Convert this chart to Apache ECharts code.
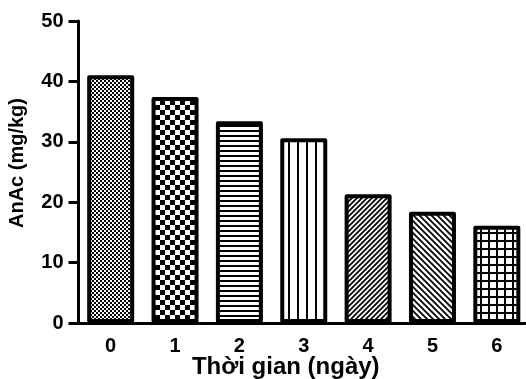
<!DOCTYPE html>
<html>
<head>
<meta charset="utf-8">
<script src="https://cdn.jsdelivr.net/npm/echarts@6/dist/echarts.min.js"></script>
<style>
html,body{margin:0;padding:0;background:#fff;}
#chart{width:526px;height:379px;}
</style>
</head>
<body>
<div id="chart"></div>
<script>
const categories = ['0', '1', '2', '3', '4', '5', '6'];
const values = [41.0, 37.4, 33.4, 30.6, 21.3, 18.4, 16.1];
const patternKinds = ['fineCheck', 'coarseCheck', 'hLines', 'vLines', 'diagUp', 'diagDown', 'grid'];
const yTicks = [0, 10, 20, 30, 40, 50];
const xTitle = 'Thời gian (ngày)';
const yTitle = 'AnAc (mg/kg)';

function makePattern(kind) {
  const c = document.createElement('canvas');
  const sizes = {fineCheck:[4,4], coarseCheck:[10,10], hLines:[5,5], vLines:[9,9], diagUp:[5,5], diagDown:[6,6], grid:[8,8]};
  const [w, h] = sizes[kind];
  c.width = w; c.height = h;
  const g = c.getContext('2d');
  g.fillStyle = '#fff'; g.fillRect(0, 0, w, h);
  g.fillStyle = '#000'; g.strokeStyle = '#000';
  if (kind === 'fineCheck') { g.fillRect(0,0,2,2); g.fillRect(2,2,2,2); }
  else if (kind === 'coarseCheck') { g.fillRect(0,0,5,5); g.fillRect(5,5,5,5); }
  else if (kind === 'hLines') { g.fillRect(0,0,w,2); }
  else if (kind === 'vLines') { g.fillRect(0,0,2,h); }
  else if (kind === 'grid') { g.fillRect(0,0,w,2); g.fillRect(0,0,2,h); }
  else if (kind === 'diagUp') {
    g.lineWidth = 1.8;
    g.beginPath();
    g.moveTo(-1, w+1); g.lineTo(w+1, -1);
    g.moveTo(-2, 2); g.lineTo(2, -2);
    g.moveTo(w-2, w+2); g.lineTo(w+2, w-2);
    g.stroke();
  } else if (kind === 'diagDown') {
    g.lineWidth = 1.8;
    g.beginPath();
    g.moveTo(-1, -1); g.lineTo(w+1, w+1);
    g.moveTo(w-2, -2); g.lineTo(w+2, 2);
    g.moveTo(-2, w-2); g.lineTo(2, w+2);
    g.stroke();
  }
  return {image: c, repeat: 'repeat'};
}

const font = "'Liberation Sans', Arial, sans-serif";
const chart = echarts.init(document.getElementById('chart'), null, {renderer: 'canvas'});
chart.setOption({
  animation: false,
  backgroundColor: '#fff',
  grid: {left: 78.5, right: -3, top: 21, bottom: 56, containLabel: false, outerBoundsMode: 'none'},
  xAxis: {
    type: 'category',
    data: categories,
    name: xTitle,
    nameLocation: 'middle',
    nameGap: 32,
    nameMoveOverlap: false,
    nameTextStyle: {fontFamily: font, fontWeight: 'bold', fontSize: 24, color: '#000', padding: [0, 36, 0, 0]},
    axisLine: {lineStyle: {color: '#000', width: 3}},
    axisTick: {alignWithLabel: true, length: 9, lineStyle: {color: '#000', width: 3}},
    axisLabel: {margin: 13, fontFamily: font, fontWeight: 'bold', fontSize: 20, color: '#000'}
  },
  yAxis: {
    type: 'value',
    min: yTicks[0], max: yTicks[yTicks.length - 1], interval: 10,
    name: yTitle,
    nameLocation: 'middle',
    nameGap: 51,
    nameMoveOverlap: false,
    nameTextStyle: {fontFamily: font, fontWeight: 'bold', fontSize: 20, color: '#000', padding: [0, 0, 0, 18]},
    axisLine: {show: true, lineStyle: {color: '#000', width: 3}},
    axisTick: {show: true, length: 10, lineStyle: {color: '#000', width: 3}},
    axisLabel: {margin: 15, fontFamily: font, fontWeight: 'bold', fontSize: 20, color: '#000'},
    splitLine: {show: false}
  },
  series: [{
    type: 'bar',
    barWidth: 47,
    data: values.map((v, i) => ({
      value: v,
      itemStyle: {color: makePattern(patternKinds[i]), borderColor: '#000', borderWidth: 4, borderJoin: 'round'}
    }))
  }]
});
</script>
</body>
</html>
